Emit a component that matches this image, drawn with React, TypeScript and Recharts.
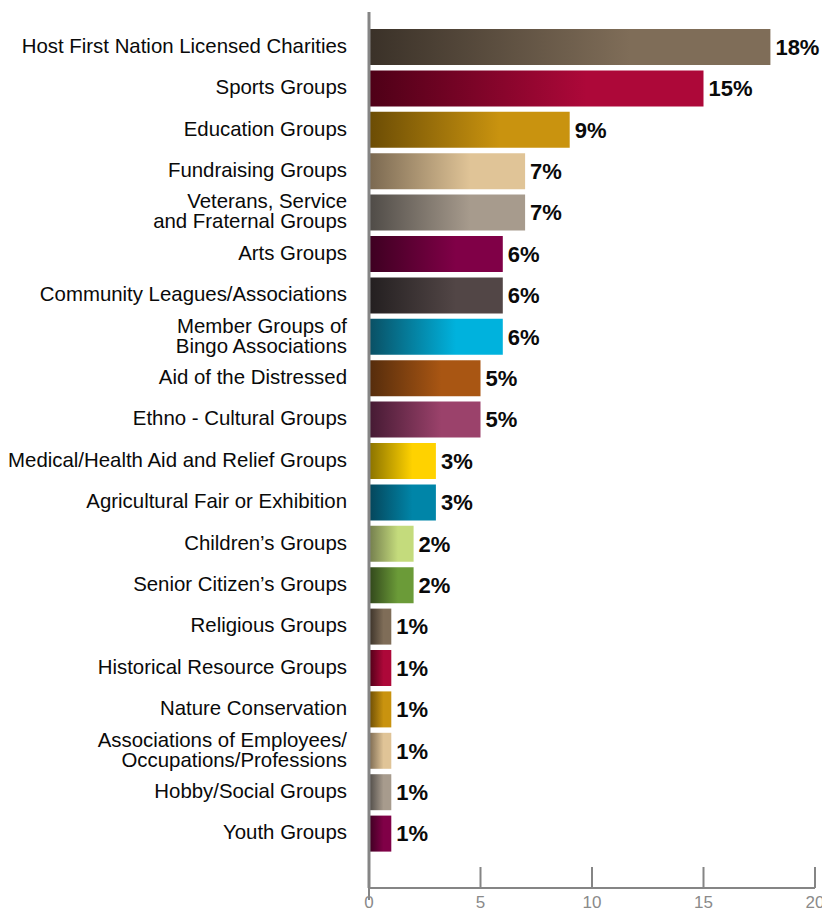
import React from 'react';
import { BarChart, Bar, XAxis, YAxis, Cell, LabelList } from 'recharts';

const categories = [
  'Host First Nation Licensed Charities',
  'Sports Groups',
  'Education Groups',
  'Fundraising Groups',
  'Veterans, Service\nand Fraternal Groups',
  'Arts Groups',
  'Community Leagues/Associations',
  'Member Groups of\nBingo Associations',
  'Aid of the Distressed',
  'Ethno - Cultural Groups',
  'Medical/Health Aid and Relief Groups',
  'Agricultural Fair or Exhibition',
  'Children\u2019s Groups',
  'Senior Citizen\u2019s Groups',
  'Religious Groups',
  'Historical Resource Groups',
  'Nature Conservation',
  'Associations of Employees/\nOccupations/Professions',
  'Hobby/Social Groups',
  'Youth Groups',
];

const values = [18, 15, 9, 7, 7, 6, 6, 6, 5, 5, 3, 3, 2, 2, 1, 1, 1, 1, 1, 1];

const xTicks = [0, 5, 10, 15, 20];

// [dark start, full colour]
const palette: [string, string][] = [
  ['#3a3128', '#7f6d58'],
  ['#4e0017', '#ad0839'],
  ['#6b4c05', '#c9930f'],
  ['#7a6850', '#e0c497'],
  ['#4f4b47', '#a79b8d'],
  ['#3d0021', '#800047'],
  ['#231f20', '#524646'],
  ['#0a4f63', '#00b2dd'],
  ['#552c0c', '#a95613'],
  ['#451a33', '#9b426b'],
  ['#8a7200', '#ffd200'],
  ['#05455a', '#0085a8'],
  ['#737d4d', '#c4db7c'],
  ['#31461b', '#6b9b38'],
  ['#3a3128', '#7f6d58'],
  ['#4e0017', '#ad0839'],
  ['#6b4c05', '#c9930f'],
  ['#7a6850', '#e0c497'],
  ['#4f4b47', '#a79b8d'],
  ['#3d0021', '#800047'],
];

const data = categories.map((name, i) => ({ name, value: values[i] }));

const FONT = '"Liberation Sans", Arial, Helvetica, sans-serif';
const AXIS_COLOR = '#858585';

const YTick = (props: any) => {
  const { x, y, payload } = props;
  const lines = String(payload.value).split('\n');
  const lh = 20;
  const fs = 20.4;
  const first = -((lines.length - 1) * lh) / 2 - 1 + fs * 0.35;
  return (
    <text x={x} y={y} textAnchor="end" fontSize={fs} fill="#0a0a0a" fontFamily={FONT}>
      {lines.map((l, i) => (
        <tspan key={i} x={x} dy={i === 0 ? first : lh}>
          {l}
        </tspan>
      ))}
    </text>
  );
};

const TICK_MARGIN = 14;

const XTick = (props: any) => {
  const { x, y, payload } = props;
  const axisY = y - TICK_MARGIN;
  return (
    <g>
      <line x1={x} x2={x} y1={axisY} y2={axisY - 21} stroke={AXIS_COLOR} strokeWidth={2} />
      {payload.value === 0 && (
        <line x1={x} x2={x} y1={axisY} y2={axisY + 12} stroke={AXIS_COLOR} strokeWidth={2} />
      )}
      <text x={x} y={y} dy="0.35em" textAnchor="middle" fontSize={17} fill="#8a8a8a" fontFamily={FONT}>
        {payload.value}
      </text>
    </g>
  );
};

export default function App() {
  return (
    <div style={{ width: 822, height: 914, overflow: 'hidden' }}>
      <style>{'html,body{margin:0;padding:0;}'}</style>
      <BarChart
        width={822}
        height={914}
        data={data}
        layout="vertical"
        margin={{ top: 12, right: 7, left: 0, bottom: 0 }}
      >
        <defs>
          {palette.map(([a, b], i) => (
            <linearGradient key={i} id={`grad-${i}`} x1="0" y1="0" x2="1" y2="0">
              <stop offset="0" stopColor={a} />
              <stop offset="0.65" stopColor={b} />
              <stop offset="1" stopColor={b} />
            </linearGradient>
          ))}
        </defs>
        <XAxis
          type="number"
          domain={[0, 20]}
          ticks={xTicks}
          interval={0}
          height={26}
          tickSize={0}
          tickMargin={TICK_MARGIN}
          tickLine={false}
          axisLine={{ stroke: AXIS_COLOR, strokeWidth: 2 }}
          tick={<XTick />}
          allowDataOverflow
        />
        <YAxis
          type="category"
          dataKey="name"
          width={369}
          interval={0}
          tickSize={0}
          tickMargin={22}
          tickLine={false}
          axisLine={{ stroke: AXIS_COLOR, strokeWidth: 3 }}
          tick={<YTick />}
          padding={{ top: 14, bottom: 34 }}
        />
        <Bar dataKey="value" barSize={36} isAnimationActive={false}>
          {data.map((_, i) => (
            <Cell key={i} fill={`url(#grad-${i})`} />
          ))}
          <LabelList
            dataKey="value"
            position="right"
            offset={5}
            formatter={(v: any) => `${v}%`}
            fill="#0a0a0a"
            fontSize={22}
            fontWeight="bold"
            fontFamily={FONT}
          />
        </Bar>
      </BarChart>
    </div>
  );
}
